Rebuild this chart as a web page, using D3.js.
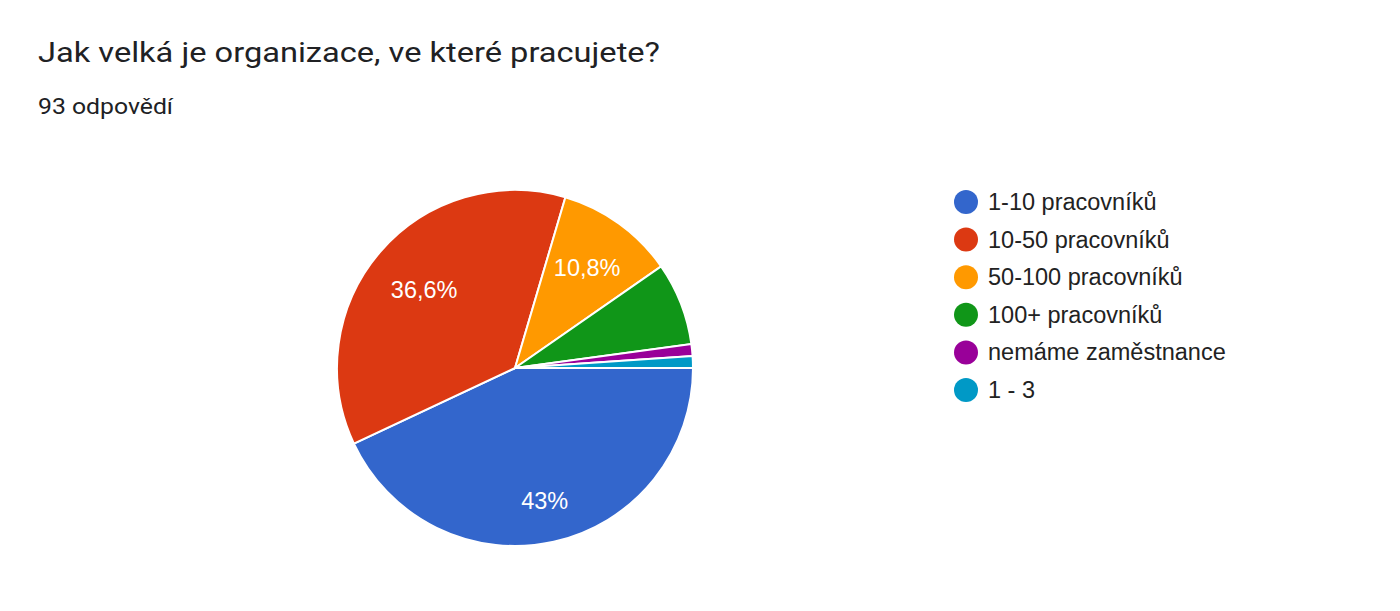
<!DOCTYPE html>
<html>
<head>
<meta charset="utf-8">
<script src="https://cdn.jsdelivr.net/npm/d3@7"></script>
<style>
  body { margin: 0; background: #fff; }
  svg { display: block; }
</style>
</head>
<body>
<svg id="chart" width="1400" height="611"></svg>
<script>
const categories = ["1-10 pracovníků", "10-50 pracovníků", "50-100 pracovníků", "100+ pracovníků", "nemáme zaměstnance", "1 - 3"];
const counts = [40, 34, 10, 7, 1, 1];
const colors = ["#3366cc", "#dc3912", "#ff9900", "#109618", "#990099", "#0099c6"];
const title = "Jak velká je organizace, ve které pracujete?";
const subtitle = "93 odpovědí";

const svg = d3.select("#chart");
const total = d3.sum(counts);

svg.append("text")
  .attr("x", 38).attr("y", 62)
  .attr("textLength", 622)
  .attr("lengthAdjust", "spacingAndGlyphs")
  .style("font-family", "Roboto, 'Noto Sans', sans-serif")
  .style("font-size", "28px")
  .style("fill", "#202124")
  .text(title);

svg.append("text")
  .attr("x", 38).attr("y", 114)
  .attr("textLength", 135)
  .attr("lengthAdjust", "spacingAndGlyphs")
  .style("font-family", "Roboto, 'Noto Sans', sans-serif")
  .style("font-size", "22px")
  .style("fill", "#202124")
  .text(subtitle);

const cx = 515, cy = 368, radius = 178;
const data = categories.map((c, i) => ({ name: c, value: counts[i], color: colors[i] }));

// google pie starts at 3 o'clock, clockwise
const pie = d3.pie().value((d) => d.value).sort(null)
  .startAngle(Math.PI / 2).endAngle(Math.PI / 2 + 2 * Math.PI);
const arc = d3.arc().innerRadius(0).outerRadius(radius);

const g = svg.append("g").attr("transform", `translate(${cx},${cy})`);
const arcs = pie(data);

g.selectAll("path")
  .data(arcs)
  .enter()
  .append("path")
  .attr("d", arc)
  .style("fill", (d) => d.data.color)
  .style("stroke", "#fff")
  .style("stroke-width", 2);

const fmt = (v) => {
  const p = Math.round(v / total * 1000) / 10;
  return String(p).replace(".", ",") + "%";
};

// place label so the outer corner of its box sits at 0.85 * radius
const cornerDist = radius * 0.85;
const labels = g.selectAll(".slice-label")
  .data(arcs.filter((d) => d.value / total > 0.08))
  .enter()
  .append("text")
  .attr("class", "slice-label")
  .attr("text-anchor", "middle")
  .attr("dominant-baseline", "central")
  .style("font-family", "Arial, 'Liberation Sans', sans-serif")
  .style("font-size", "23.5px")
  .style("fill", "#fff")
  .text((d) => fmt(d.value));

labels.each(function (d) {
  const w = this.getComputedTextLength();
  const h = 17;
  const mid = (d.startAngle + d.endAngle) / 2;
  const ux = Math.sin(mid), uy = -Math.cos(mid);
  const a = Math.sign(ux) * w / 2, b = Math.sign(uy) * h / 2;
  const k = ux * a + uy * b;
  const r = -k + Math.sqrt(k * k - (a * a + b * b - cornerDist * cornerDist));
  d3.select(this).attr("x", r * ux).attr("y", r * uy);
});

const legend = svg.append("g").attr("transform", "translate(966,202)");
const rowY = d3.scalePoint().domain(categories).range([0, 188]);

const item = legend.selectAll(".legend-item")
  .data(data)
  .enter()
  .append("g")
  .attr("class", "legend-item")
  .attr("transform", (d) => `translate(0,${rowY(d.name)})`);

item.append("circle").attr("r", 12).style("fill", (d) => d.color);
item.append("text")
  .attr("x", 22)
  .attr("dominant-baseline", "central")
  .style("font-family", "Arial, 'Liberation Sans', sans-serif")
  .style("font-size", "23.5px")
  .style("fill", "#222")
  .text((d) => d.name);
</script>
</body>
</html>
